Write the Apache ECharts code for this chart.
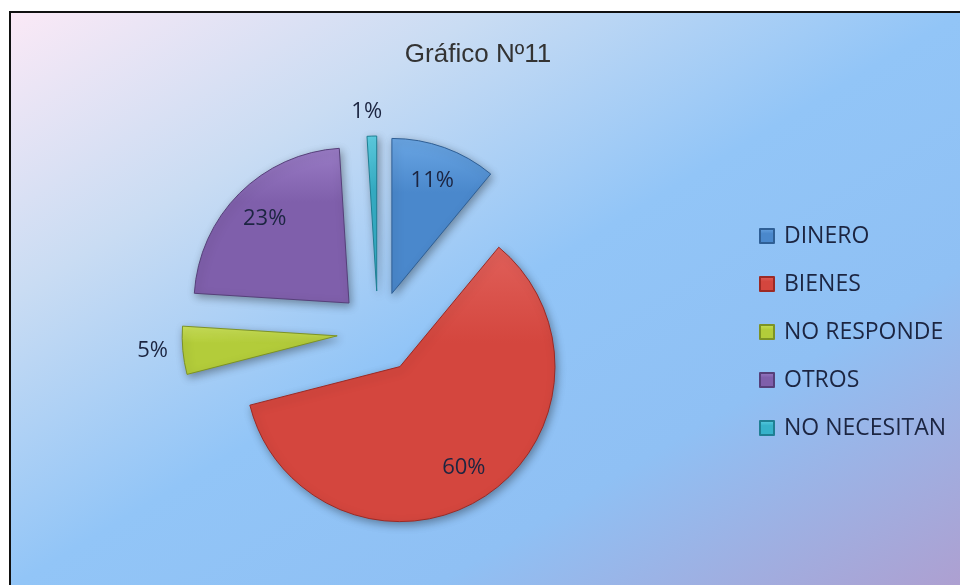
<!DOCTYPE html>
<html><head><meta charset="utf-8">
<script src="https://cdn.jsdelivr.net/npm/echarts@6/dist/echarts.min.js"></script>
<style>html,body{margin:0;padding:0;background:#fff}#c{width:960px;height:585px}</style>
</head><body><div id="c"></div>
<script>
const titleText = 'Gráfico Nº11';
const categories = ['DINERO', 'BIENES', 'NO RESPONDE', 'OTROS', 'NO NECESITAN'];
const values = [11, 60, 5, 23, 1];

// styling (not data)
const colors = ['#4a88cc', '#d4463e', '#b3cc3a', '#7f5fab', '#36b2ca'];
const lightColors = ['#6aa6e4', '#e0605a', '#cce25a', '#9a7cc6', '#5fd0e4'];
const borders = ['#2f5f95', '#9c2a25', '#7d9325', '#56407a', '#1f7f93'];
const labelInside = [true, true, false, true, false];
const outLen = [10, 10, 8, 10, 24];
const outLen2 = [0, 0, 2, 0, -16];

const center = [378, 332];
const R = 155;
const explode = 41;
const txt = '#1c2541';
const font = '"Open Sans", sans-serif';

const grad = (i) => new echarts.graphic.LinearGradient(0, 0, 0, 1, [
  { offset: 0, color: lightColors[i] },
  { offset: 0.35, color: colors[i] },
  { offset: 1, color: colors[i] }
]);

const mainData = categories.map((n, i) => ({
  name: n, value: values[i], selected: true,
  itemStyle: { color: grad(i), borderColor: borders[i] },
  label: { show: !labelInside[i] },
  labelLine: { show: false, length: outLen[i], length2: outLen2[i] }
}));
const labelData = categories.map((n, i) => ({
  name: n, value: values[i], selected: true,
  label: { show: labelInside[i] }
}));

const chart = echarts.init(document.getElementById('c'), null, { renderer: 'canvas' });
chart.setOption({
  animation: false,
  graphic: [{
    type: 'rect', z: -10,
    shape: { x: 10, y: 12, width: 952, height: 575 },
    style: {
      fill: new echarts.graphic.LinearGradient(0, 0, 0.535, 1.466, [
        { offset: 0, color: '#fbe9f6' },
        { offset: 0.25, color: '#c9dcf3' },
        { offset: 0.5, color: '#92c5f7' },
        { offset: 0.72, color: '#8fc0f4' },
        { offset: 1, color: '#ae9fd0' }
      ]),
      stroke: '#111', lineWidth: 2
    }
  }],
  title: {
    text: titleText, left: 473, top: 37, textAlign: 'center',
    textStyle: { fontFamily: '"Liberation Sans", Arial, sans-serif', fontSize: 26, fontWeight: 'normal', color: '#333333' }
  },
  legend: {
    orient: 'vertical', left: 759, top: 224, padding: 0,
    data: categories, icon: 'rect', itemWidth: 14, itemHeight: 14, itemGap: 24,
    textStyle: { fontFamily: font, fontSize: 23, color: txt, lineHeight: 24, padding: [0, 0, 0, 5] },
    selectedMode: false
  },
  series: [{
    type: 'pie', center: center, radius: R, startAngle: 90, clockwise: true,
    selectedMode: 'multiple', selectedOffset: explode,
    percentPrecision: 0,
    itemStyle: { borderWidth: 1, shadowBlur: 8, shadowColor: 'rgba(0,0,0,0.35)', shadowOffsetX: 2, shadowOffsetY: 3 },
    label: { position: 'outside', formatter: '{d}%', fontFamily: font, fontSize: 22, color: txt },
    emphasis: { scale: false },
    data: mainData
  }, {
    type: 'pie', center: center, radius: R * 1.5, startAngle: 90, clockwise: true,
    selectedMode: 'multiple', selectedOffset: explode, silent: true,
    percentPrecision: 0,
    itemStyle: { color: 'rgba(0,0,0,0)' },
    label: { position: 'inside', formatter: '{d}%', fontFamily: font, fontSize: 22, color: txt },
    labelLine: { show: false },
    emphasis: { scale: false },
    data: labelData
  }]
});
</script></body></html>
